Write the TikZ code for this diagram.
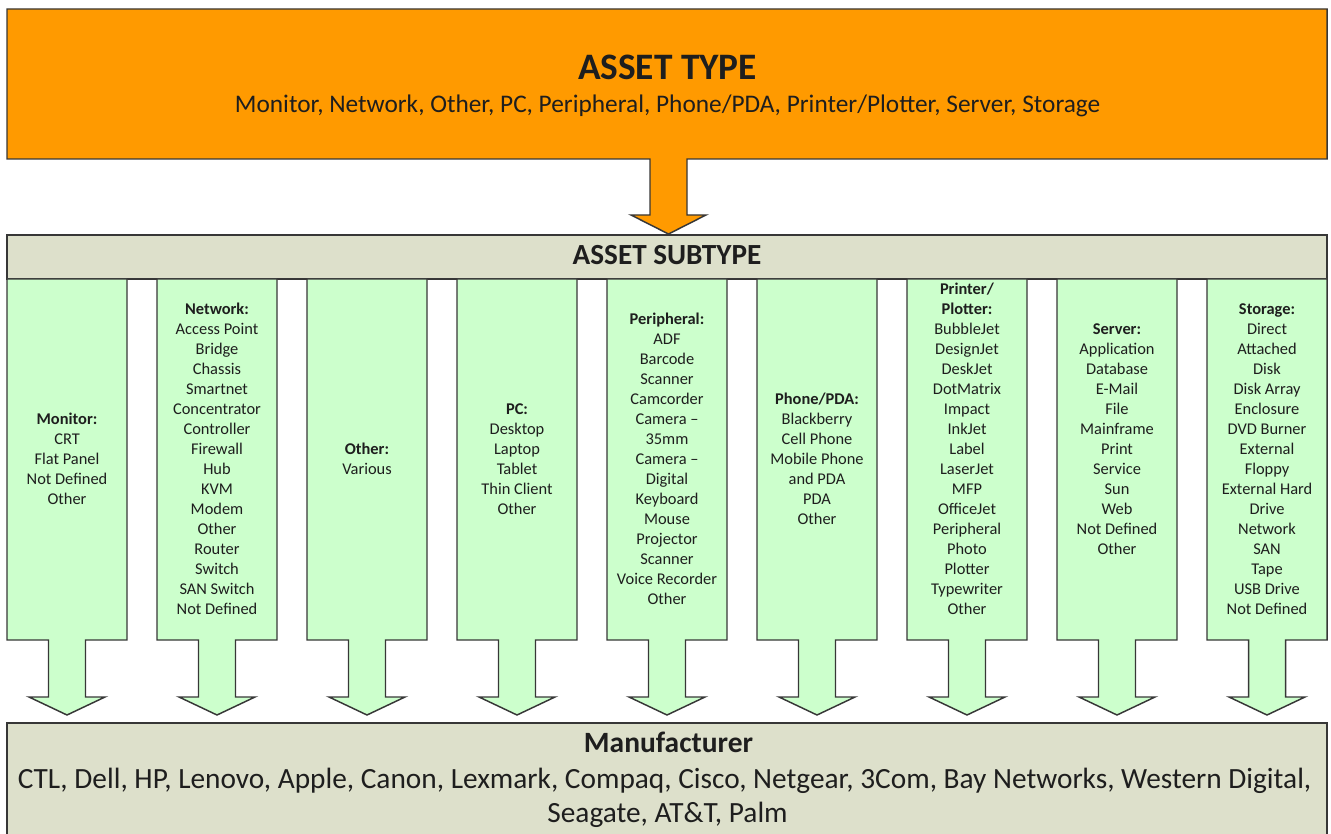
\documentclass[tikz,border=0pt]{standalone}
\usepackage{fontspec}
\setmainfont{Carlito}
\definecolor{orangeA}{RGB}{255,154,0}
\definecolor{greenA}{RGB}{204,255,204}
\definecolor{grayA}{RGB}{221,224,203}
\definecolor{lineA}{RGB}{55,55,55}
\definecolor{textA}{RGB}{30,30,30}
\tikzset{
  boxline/.style={draw=lineA, line width=1.1pt, line join=miter},
  coltext/.style={anchor=center, align=center, inner sep=0pt, text=textA,
    font=\fontsize{12.3}{15}\selectfont},
  bigtext/.style={anchor=base, inner sep=0pt, text=textA},
}
\begin{document}
\begin{tikzpicture}[x=0.75pt,y=-0.75pt]
\useasboundingbox (0,0) rectangle (1331,834);
% top box with arrow
\draw[boxline, fill=orangeA] (7,9) -- (1327,9) -- (1327,159) -- (687,159) -- (687,215)
  -- (706,215) -- (668.5,234) -- (631,215) -- (650,215) -- (650,159) -- (7,159) -- cycle;
% subtype header
\draw[boxline, fill=grayA] (7,235) rectangle (1327,279);
% manufacturer box
\draw[boxline, fill=grayA] (7,723) rectangle (1327,870);
% columns with down arrows
\foreach \i in {0,...,8} {
  \pgfmathsetmacro\L{7+150*\i}
  \pgfmathsetmacro\R{\L+120}
  \pgfmathsetmacro\C{\L+60}
  \draw[boxline, fill=greenA] (\L,279) -- (\R,279) -- (\R,640) -- (\C+18.5,640) -- (\C+18.5,697)
    -- (\C+38,697) -- (\C,715) -- (\C-38,697) -- (\C-18.5,697) -- (\C-18.5,640) -- (\L,640) -- cycle;
}
% texts
\node[bigtext, font=\bfseries\fontsize{28}{32}\selectfont] (typetitle) at (667.5,80) {ASSET TYPE};
\node[bigtext, font=\fontsize{19}{22}\selectfont] (typelist) at (667.5,113)
  {Monitor, Network, Other, PC, Peripheral, Phone/PDA, Printer/Plotter, Server, Storage};
\node[bigtext, font=\bfseries\fontsize{21.9}{25}\selectfont] (subtitle) at (667,265) {ASSET SUBTYPE};
\node[bigtext, font=\bfseries\fontsize{22.1}{25}\selectfont] (mantitle) at (668.5,752) {Manufacturer};
\node[bigtext, font=\fontsize{22}{25}\selectfont] (manlist1) at (664.5,788)
  {CTL, Dell, HP, Lenovo, Apple, Canon, Lexmark, Compaq, Cisco, Netgear, 3Com, Bay Networks, Western Digital,};
\node[bigtext, font=\fontsize{22}{25}\selectfont] (manlist2) at (667.5,822) {Seagate, AT\&T, Palm};

\node[coltext] (monitor) at (67,459) {\textbf{Monitor:}\\CRT\\Flat Panel\\Not Defined\\Other};
\node[coltext] (network) at (217,459) {\textbf{Network:}\\Access Point\\Bridge\\Chassis\\Smartnet\\Concentrator\\Controller\\Firewall\\Hub\\KVM\\Modem\\Other\\Router\\Switch\\SAN Switch\\Not Defined};
\node[coltext] (other) at (367,459) {\textbf{Other:}\\Various};
\node[coltext] (pc) at (517,459) {\textbf{PC:}\\Desktop\\Laptop\\Tablet\\Thin Client\\Other};
\node[coltext] (peripheral) at (667,459) {\textbf{Peripheral:}\\ADF\\Barcode\\Scanner\\Camcorder\\Camera –\\35mm\\Camera –\\Digital\\Keyboard\\Mouse\\Projector\\Scanner\\Voice Recorder\\Other};
\node[coltext] (phone) at (817,459) {\textbf{Phone/PDA:}\\Blackberry\\Cell Phone\\Mobile Phone\\and PDA\\PDA\\Other};
\node[coltext] (printer) at (967,448.5) {\textbf{Printer/}\\\textbf{Plotter:}\\BubbleJet\\DesignJet\\DeskJet\\DotMatrix\\Impact\\InkJet\\Label\\LaserJet\\MFP\\OfficeJet\\Peripheral\\Photo\\Plotter\\Typewriter\\Other};
\node[coltext] (server) at (1117,439) {\textbf{Server:}\\Application\\Database\\E-Mail\\File\\Mainframe\\Print\\Service\\Sun\\Web\\Not Defined\\Other};
\node[coltext] (storage) at (1267,459) {\textbf{Storage:}\\Direct\\Attached\\Disk\\Disk Array\\Enclosure\\DVD Burner\\External\\Floppy\\External Hard\\Drive\\Network\\SAN\\Tape\\USB Drive\\Not Defined};
\end{tikzpicture}
\end{document}
